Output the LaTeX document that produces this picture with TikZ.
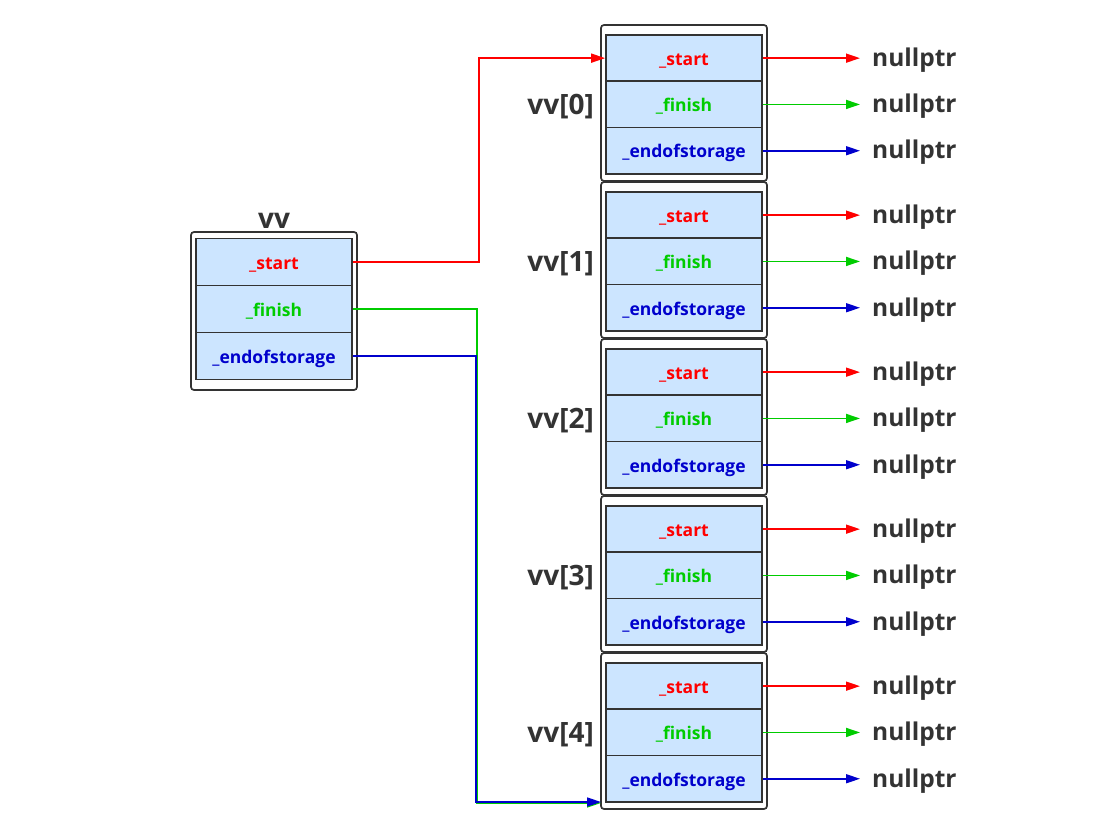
\documentclass[tikz,border=0pt]{standalone}
\usepackage{fontspec}
\setmainfont{Open Sans}
\usetikzlibrary{arrows.meta}
\definecolor{cellblue}{HTML}{CCE5FF}
\definecolor{edgegray}{HTML}{333333}
\definecolor{txtgray}{HTML}{333333}
\definecolor{pred}{HTML}{FF0000}
\definecolor{pgreen}{HTML}{00CC00}
\definecolor{pblue}{HTML}{0000CC}
\begin{document}
\begin{tikzpicture}[x=1pt,y=-1pt,
  cell/.style={draw=edgegray, fill=cellblue, line width=1.7pt, minimum width=156pt, minimum height=46.3pt, inner sep=0pt, text height=14.5pt, text depth=0pt, font=\bfseries\fontsize{17.5}{20}\selectfont},
  outer/.style={draw=edgegray, line width=1.7pt, rounded corners=3pt},
  title/.style={font=\bfseries\fontsize{28}{30}\selectfont, text=txtgray, inner sep=0pt},
  nul/.style={font=\bfseries\fontsize{24.5}{28}\selectfont, text=txtgray, inner sep=0pt, anchor=west, text height=16.5pt, text depth=0pt},
  ptr/.style={line width=1.6pt, -{Triangle[length=14pt,width=9pt]}, shorten >=12pt},
  link/.style={line width=1.6pt, -{Triangle[length=14pt,width=9pt]}}
]
\useasboundingbox (0,0) rectangle (1114,829);
% vv
\draw[outer] (191,232) rectangle (357,390);
\node[title] (vvt) at (274,221) {vv};
\node[cell, text=pred, minimum height=47pt] (vs) at (274,262) {\_start};
\node[cell, text=pgreen, minimum height=47pt] (vf) at (274,309) {\_finish};
\node[cell, text=pblue, minimum height=47pt] (ve) at (274,356) {\_endofstorage};
% vv[i]
\foreach \i in {0,...,4}{
  \pgfmathsetmacro{\T}{35+157*\i}
  \draw[outer] (601,\T-10) rectangle (767,\T+146);
  \node[cell, text=pred] (s\i) at (684,\T+23.15) {\_start};
  \node[cell, text=pgreen] (f\i) at (684,\T+69.45) {\_finish};
  \node[cell, text=pblue] (e\i) at (684,\T+115.75) {\_endofstorage};
  \node[title, anchor=east] (l\i) at (594,\T+71.5) {vv[\i]};
  \node[nul] (ns\i) at (872,\T+23.15) {nullptr};
  \node[nul] (nf\i) at (872,\T+69.45) {nullptr};
  \node[nul] (ne\i) at (872,\T+115.75) {nullptr};
  \draw[ptr, pred] (s\i.east) -- (ns\i.west);
  \draw[ptr, pgreen] (f\i.east) -- (nf\i.west);
  \draw[ptr, pblue] (e\i.east) -- (ne\i.west);
}
% links from vv
\coordinate (rj) at (479,262);
\coordinate (gj) at (477,309);
\coordinate (bj) at (476,356);
\coordinate (gt) at (601,803);
\coordinate (bt) at (601,802);
\draw[link, pred] (vs.east) -- (rj) |- (s0.west);
\draw[link, pgreen] (vf.east) -- (gj) |- (gt);
\draw[link, pblue] (ve.east) -- (bj) |- (bt);
\end{tikzpicture}
\end{document}
